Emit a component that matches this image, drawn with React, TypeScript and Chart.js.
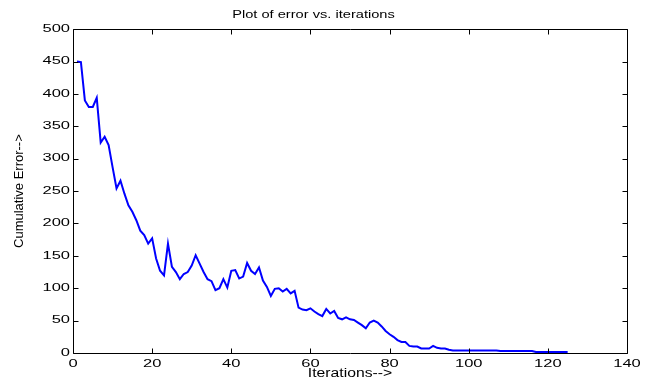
import React, { useEffect, useRef } from "react";
import { Chart, registerables } from "chart.js";

Chart.register(...registerables);

const TITLE = "Plot of error vs. iterations";
const X_TITLE = "Iterations-->";
const Y_TITLE = "Cumulative Error-->";

// cumulative error for iterations 1..125
const errors: number[] = [
  450, 449, 390, 380, 380, 394, 325, 334, 321, 287,
  254, 266, 246, 228, 218, 205, 189, 182, 169, 177,
  146, 127, 120, 169, 133, 125, 114, 122, 125, 135,
  151, 138, 125, 114, 111, 97, 100, 114, 101, 127,
  128, 115, 118, 139, 127, 122, 132, 112, 102, 88,
  99, 100, 95, 99, 92, 96, 70, 67, 66, 69,
  64, 60, 57, 68, 61, 65, 54, 52, 55, 52,
  51, 47, 43, 38, 47, 50, 47, 41, 34, 29,
  25, 20, 17, 17, 11, 10, 10, 7, 7, 7,
  11, 8, 7, 7, 5, 4, 4, 4, 4, 4,
  4, 4, 4, 4, 4, 4, 4, 3, 3, 3,
  3, 3, 3, 3, 3, 3, 1.5, 1.5, 1.5, 1.5,
  1.5, 1.5, 1.5, 1.5, 1.5,
];

const X_MIN = 0;
const X_MAX = 140;
const X_STEP = 20;
const Y_MIN = 0;
const Y_MAX = 500;
const Y_STEP = 50;

const FONT = "'Liberation Sans', Arial, sans-serif";

// horizontal stretch of the (non-rotated) text, by font size, to mimic the reference's wide lettering
const STRETCH: Record<string, number> = { "10": 1.65, "11": 1.33, "12": 1.31 };

const boxTicks = {
  id: "boxTicks",
  afterDraw(chart: any) {
    const { ctx, chartArea: a, scales } = chart;
    const xs = scales.x;
    const ys = scales.y;
    const L = 5;
    ctx.save();
    ctx.strokeStyle = "#000";
    ctx.lineWidth = 1;
    ctx.beginPath();
    const l = Math.round(a.left) + 0.5;
    const r = Math.round(a.right) + 0.5;
    const t = Math.round(a.top) + 0.5;
    const b = Math.round(a.bottom) + 0.5;
    ctx.rect(l, t, r - l, b - t);
    xs.ticks.forEach((tk: any) => {
      const px = Math.round(xs.getPixelForValue(tk.value)) + 0.5;
      ctx.moveTo(px, b);
      ctx.lineTo(px, b - L);
      ctx.moveTo(px, t);
      ctx.lineTo(px, t + L);
    });
    ys.ticks.forEach((tk: any) => {
      const py = Math.round(ys.getPixelForValue(tk.value)) + 0.5;
      ctx.moveTo(l, py);
      ctx.lineTo(l + L, py);
      ctx.moveTo(r, py);
      ctx.lineTo(r - L, py);
    });
    ctx.stroke();
    ctx.restore();
  },
};

export default function App() {
  const ref = useRef<HTMLCanvasElement | null>(null);
  useEffect(() => {
    const canvas = ref.current;
    if (!canvas) return;
    const c2d = canvas.getContext("2d") as any;
    const origFill = c2d.fillText.bind(c2d);
    c2d.fillText = (text: string, x: number, y: number, mw?: number) => {
      const m = c2d.getTransform();
      const match = /(\d+(?:\.\d+)?)px/.exec(c2d.font);
      const k = match ? STRETCH[match[1]] : undefined;
      if (!k || Math.abs(m.b) > 1e-6) {
        origFill(text, x, y);
        return;
      }
      c2d.save();
      c2d.translate(x, y);
      c2d.scale(k, 1);
      origFill(text, 0, 0);
      c2d.restore();
    };
    const chart = new Chart(canvas, {
      type: "line",
      data: {
        datasets: [
          {
            data: errors.map((v, i) => ({ x: i + 1, y: v })),
            borderColor: "#0000FF",
            borderWidth: 2,
            pointRadius: 0,
            tension: 0,
            fill: false,
          },
        ],
      },
      options: {
        responsive: false,
        animation: false,
        layout: { padding: { left: 0, right: 26, top: 0, bottom: 0 } },
        plugins: {
          legend: { display: false },
          tooltip: { enabled: false },
          title: {
            display: true,
            text: TITLE,
            color: "#000",
            font: { family: FONT, size: 11, weight: "normal" },
            padding: { top: 8, bottom: 8 },
          },
        },
        scales: {
          x: {
            type: "linear",
            min: X_MIN,
            max: X_MAX,
            afterFit: (s: any) => {
              s.height = 32;
            },
            ticks: {
              stepSize: X_STEP,
              color: "#000",
              padding: 5,
              font: { family: FONT, size: 10 },
              maxRotation: 0,
            },
            grid: { display: false, drawTicks: false },
            border: { display: false },
            title: {
              display: true,
              text: X_TITLE,
              color: "#000",
              font: { family: FONT, size: 12 },
              padding: { top: 0, bottom: 4 },
            },
          },
          y: {
            type: "linear",
            min: Y_MIN,
            max: Y_MAX,
            afterFit: (s: any) => {
              s.width = 73;
            },
            ticks: {
              stepSize: Y_STEP,
              color: "#000",
              padding: 3,
              font: { family: FONT, size: 10 },
            },
            grid: { display: false, drawTicks: false },
            border: { display: false },
            title: {
              display: true,
              text: Y_TITLE,
              color: "#000",
              font: { family: FONT, size: 13 },
              padding: { top: 12, bottom: 0 },
            },
          },
        },
      },
      plugins: [boxTicks],
    });
    return () => {
      chart.destroy();
      c2d.fillText = origFill;
    };
  }, []);
  return (
    <div style={{ position: "fixed", left: 0, top: 0, width: 653, height: 385, background: "#fff" }}>
      <canvas ref={ref} width={653} height={385} />
    </div>
  );
}
